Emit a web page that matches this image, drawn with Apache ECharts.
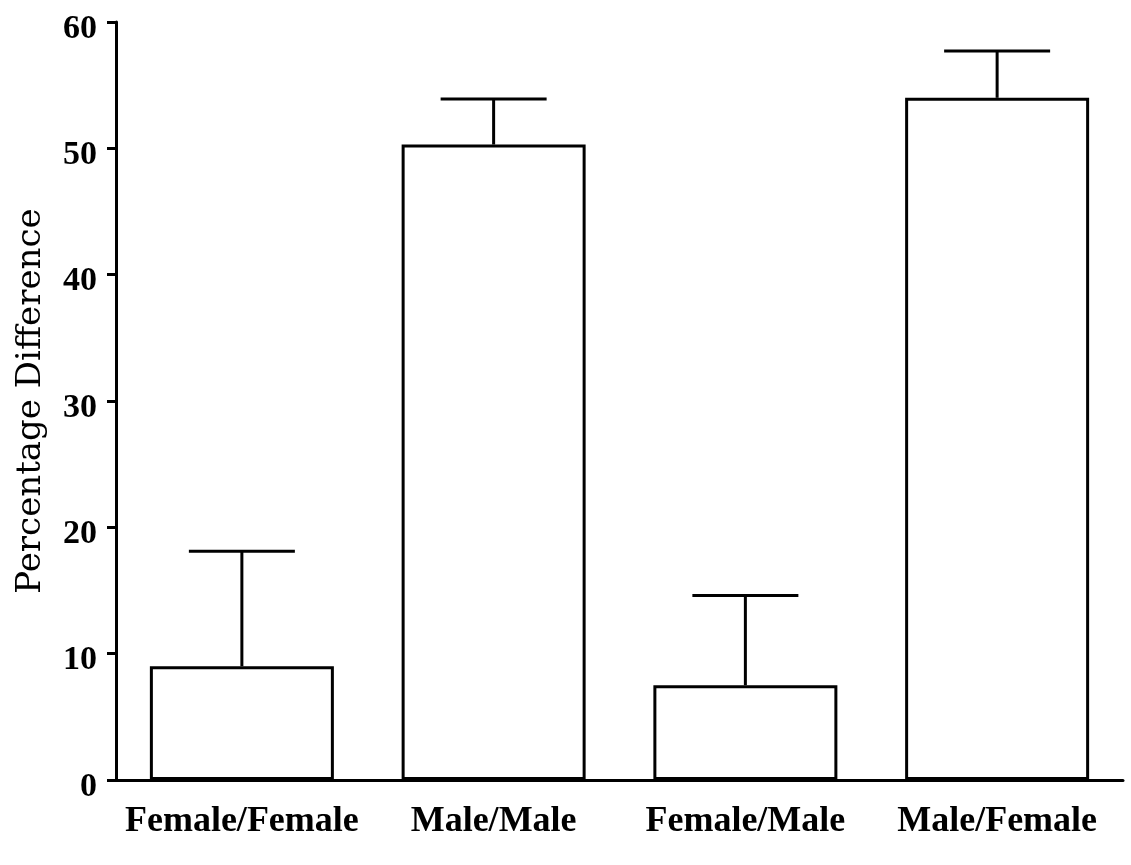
<!DOCTYPE html>
<html lang="en">
<head>
    <meta charset="UTF-8">
    <title>Percentage Difference</title>
    <script src="https://cdn.jsdelivr.net/npm/echarts@6/dist/echarts.min.js"></script>
    <style>
        html, body { margin: 0; padding: 0; background: #fff; }
        #chart { width: 1131px; height: 865px; }
    </style>
</head>
<body>
<div id="chart"></div>
<script type="text/javascript">
    var categories = ["Female/Female", "Male/Male", "Female/Male", "Male/Female"];
    var means = [9.0, 50.3, 7.5, 54.0];
    var upper = [18.1, 53.9, 14.6, 57.7];
    var yTicks = [0, 10, 20, 30, 40, 50, 60];

    var labelFont = "'Liberation Serif', 'Times New Roman', serif";
    var nameFont = "'DejaVu Serif', serif";
    var dom = document.getElementById("chart");
    var myChart = echarts.init(dom);

    var errData = [];
    for (var i = 0; i < categories.length; i++) {
        errData.push([i, means[i], upper[i]]);
    }

    var option = {
        animation: false,
        backgroundColor: '#fff',
        grid: {left: 116, right: 8, top: 22, bottom: 85},
        xAxis: {
            type: 'category',
            data: categories,
            axisLine: {lineStyle: {color: '#000', width: 3}},
            axisTick: {show: false},
            axisLabel: {
                color: '#000', fontFamily: labelFont, fontWeight: 'bold', fontSize: 36,
                margin: 24, interval: 0
            }
        },
        yAxis: {
            type: 'value',
            min: yTicks[0],
            max: yTicks[yTicks.length - 1],
            interval: 10,
            name: 'Percentage Difference',
            nameLocation: 'middle',
            nameGap: 68,
            nameTextStyle: {color: '#000', fontFamily: nameFont, fontSize: 34},
            splitLine: {show: false},
            axisLine: {show: true, lineStyle: {color: '#000', width: 3}},
            axisTick: {show: true, length: 9, lineStyle: {color: '#000', width: 3}},
            axisLabel: {
                color: '#000', fontFamily: labelFont, fontWeight: 'bold', fontSize: 34,
                margin: 19, verticalAlign: 'top', lineHeight: 14
            }
        },
        series: [
            {
                type: 'bar',
                data: means,
                barWidth: 184,
                itemStyle: {color: '#fff', borderColor: '#000', borderWidth: 3}
            },
            {
                type: 'custom',
                data: errData,
                z: 3,
                renderItem: function (params, api) {
                    var base = api.coord([api.value(0), api.value(1)]);
                    var top = api.coord([api.value(0), api.value(2)]);
                    var half = 53;
                    var st = {stroke: '#000', lineWidth: 3};
                    return {
                        type: 'group',
                        children: [
                            {type: 'line', shape: {x1: base[0], y1: base[1], x2: top[0], y2: top[1]}, style: st},
                            {type: 'line', shape: {x1: top[0] - half, y1: top[1], x2: top[0] + half, y2: top[1]}, style: st}
                        ]
                    };
                }
            }
        ]
    };
    myChart.setOption(option);
</script>
</body>
</html>
